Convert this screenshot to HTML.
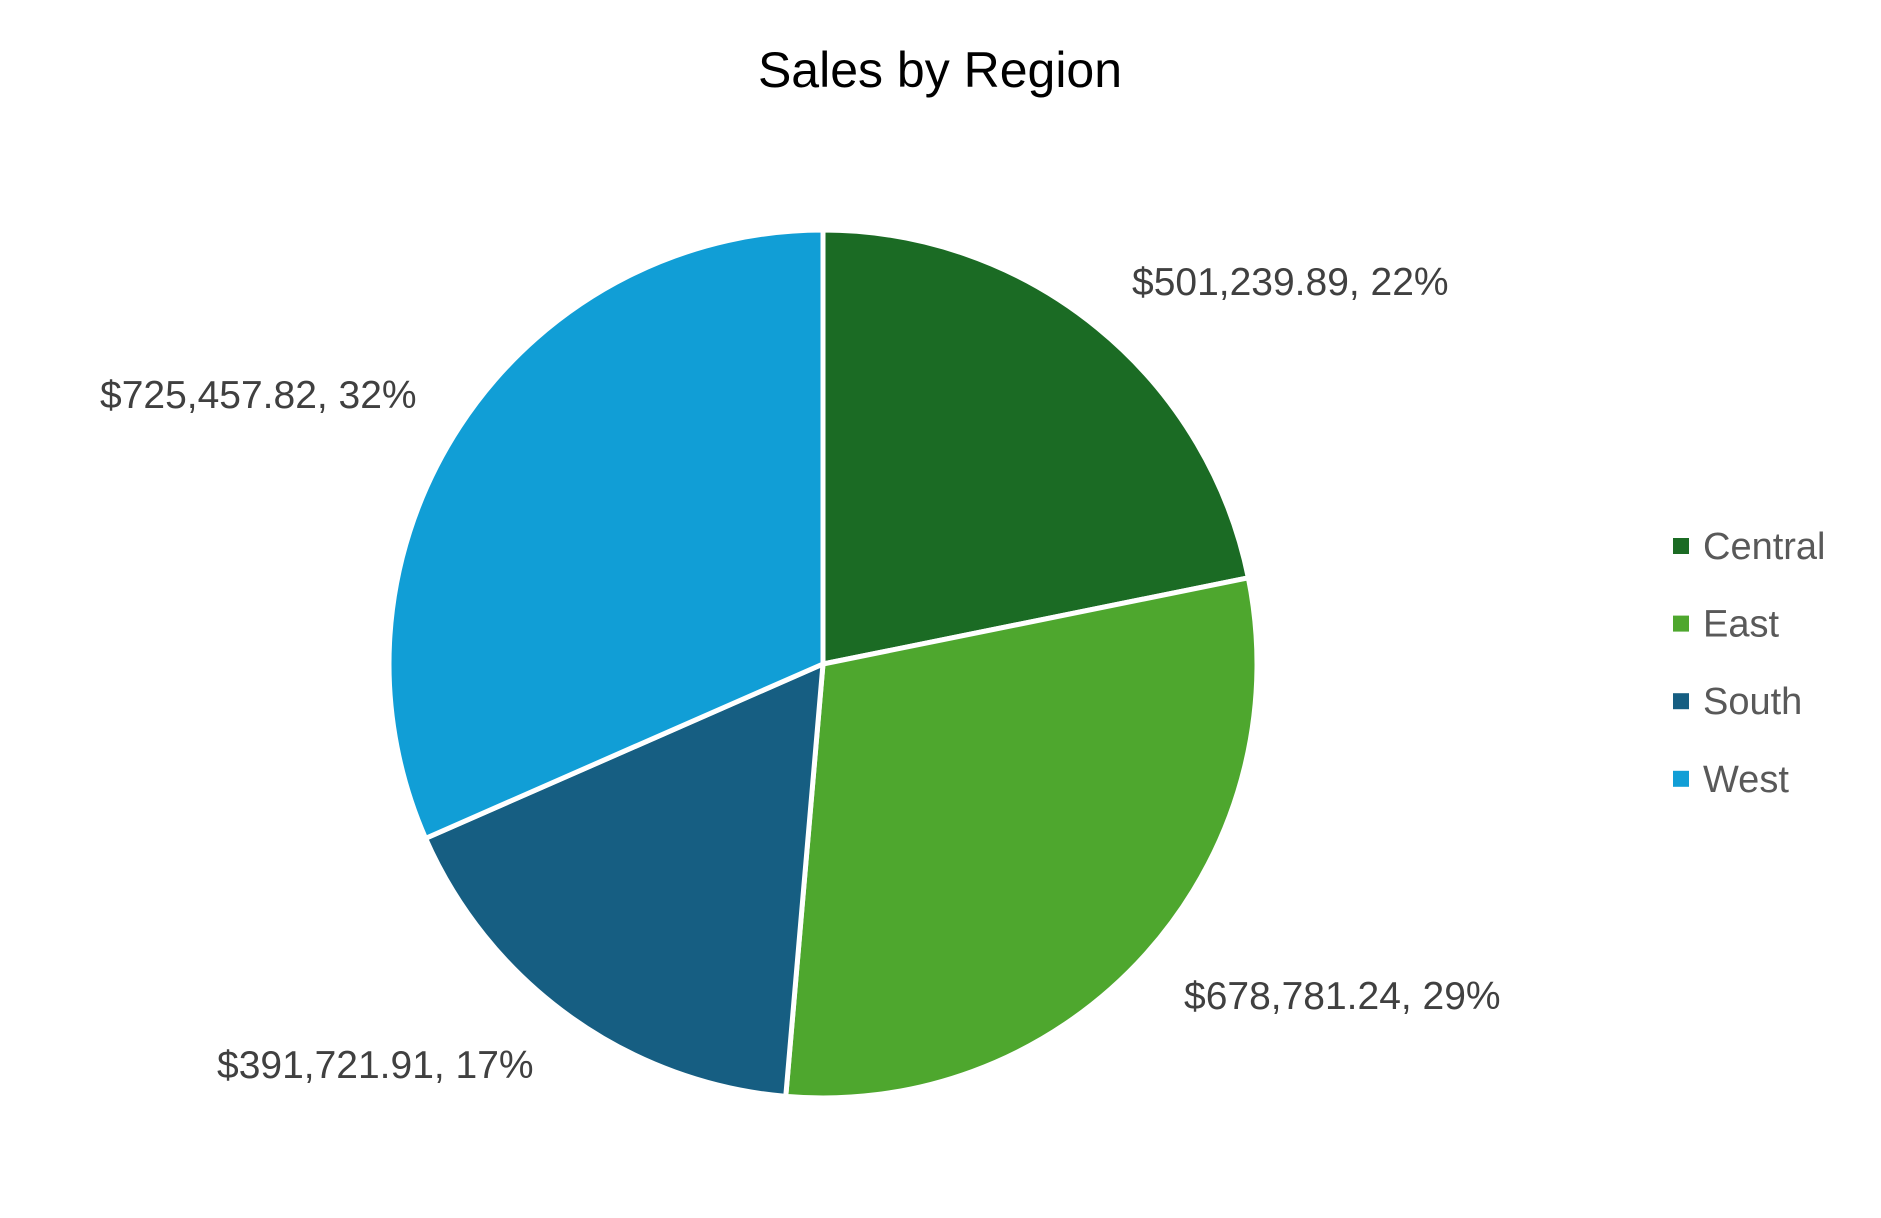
<!DOCTYPE html>
<html><head><meta charset="utf-8"><style>
html,body{margin:0;padding:0;background:#fff;}
svg{display:block;}
text{font-family:"Liberation Sans",sans-serif;}
</style></head><body>
<svg id="chart" width="1881" height="1218" viewBox="0 0 1881 1218">
<text x="940" y="87" text-anchor="middle" font-size="50" fill="#000">Sales by Region</text>
<g id="slices"></g>
<g id="labels"></g>
<g id="legend"></g>
</svg>
<script>
const categories = ["Central", "East", "South", "West"];
const values = [501239.89, 678781.24, 391721.91, 725457.82];
const pctLabels = ["22%", "29%", "17%", "32%"];
const colors = ["#1b6b24", "#4ea72e", "#165e82", "#119ed6"];
const labelPos = [[1132,295],[1184,1009],[217,1078],[100,408]];
const cx = 823, cy = 664, r = 434;
const NS = "http://www.w3.org/2000/svg";
const total = values.reduce((a,b)=>a+b,0);
const slices = document.getElementById('slices');
const labels = document.getElementById('labels');
const legend = document.getElementById('legend');
let ang = -Math.PI/2;
function pt(a){return [cx + r*Math.cos(a), cy + r*Math.sin(a)];}
values.forEach((v,i)=>{
  const a0 = ang, a1 = ang + v/total*2*Math.PI; ang = a1;
  const p0 = pt(a0), p1 = pt(a1);
  const large = (a1-a0) > Math.PI ? 1 : 0;
  const path = document.createElementNS(NS,'path');
  path.setAttribute('d', `M${cx},${cy} L${p0[0]},${p0[1]} A${r},${r} 0 ${large} 1 ${p1[0]},${p1[1]} Z`);
  path.setAttribute('fill', colors[i]);
  path.setAttribute('stroke', '#fff');
  path.setAttribute('stroke-width', '5');
  path.setAttribute('stroke-linejoin', 'round');
  
  
  slices.appendChild(path);

  const t = document.createElementNS(NS,'text');
  t.setAttribute('x', labelPos[i][0]);
  t.setAttribute('y', labelPos[i][1]);
  t.setAttribute('font-size', '39');
  t.setAttribute('fill', '#404040');
  t.textContent = '$' + v.toLocaleString('en-US',{minimumFractionDigits:2,maximumFractionDigits:2}) + ', ' + pctLabels[i];
  
  
  labels.appendChild(t);

  const yc = 546 + i*77.6;
  const sq = document.createElementNS(NS,'rect');
  sq.setAttribute('x', 1673); sq.setAttribute('y', yc-8);
  sq.setAttribute('width', 16); sq.setAttribute('height', 16);
  sq.setAttribute('fill', colors[i]);
  
  
  legend.appendChild(sq);
  const lt = document.createElementNS(NS,'text');
  lt.setAttribute('x', 1703); lt.setAttribute('y', yc+13);
  lt.setAttribute('font-size', '38');
  lt.setAttribute('fill', '#595959');
  lt.textContent = categories[i];
  
  
  legend.appendChild(lt);
});
</script>
</body></html>
